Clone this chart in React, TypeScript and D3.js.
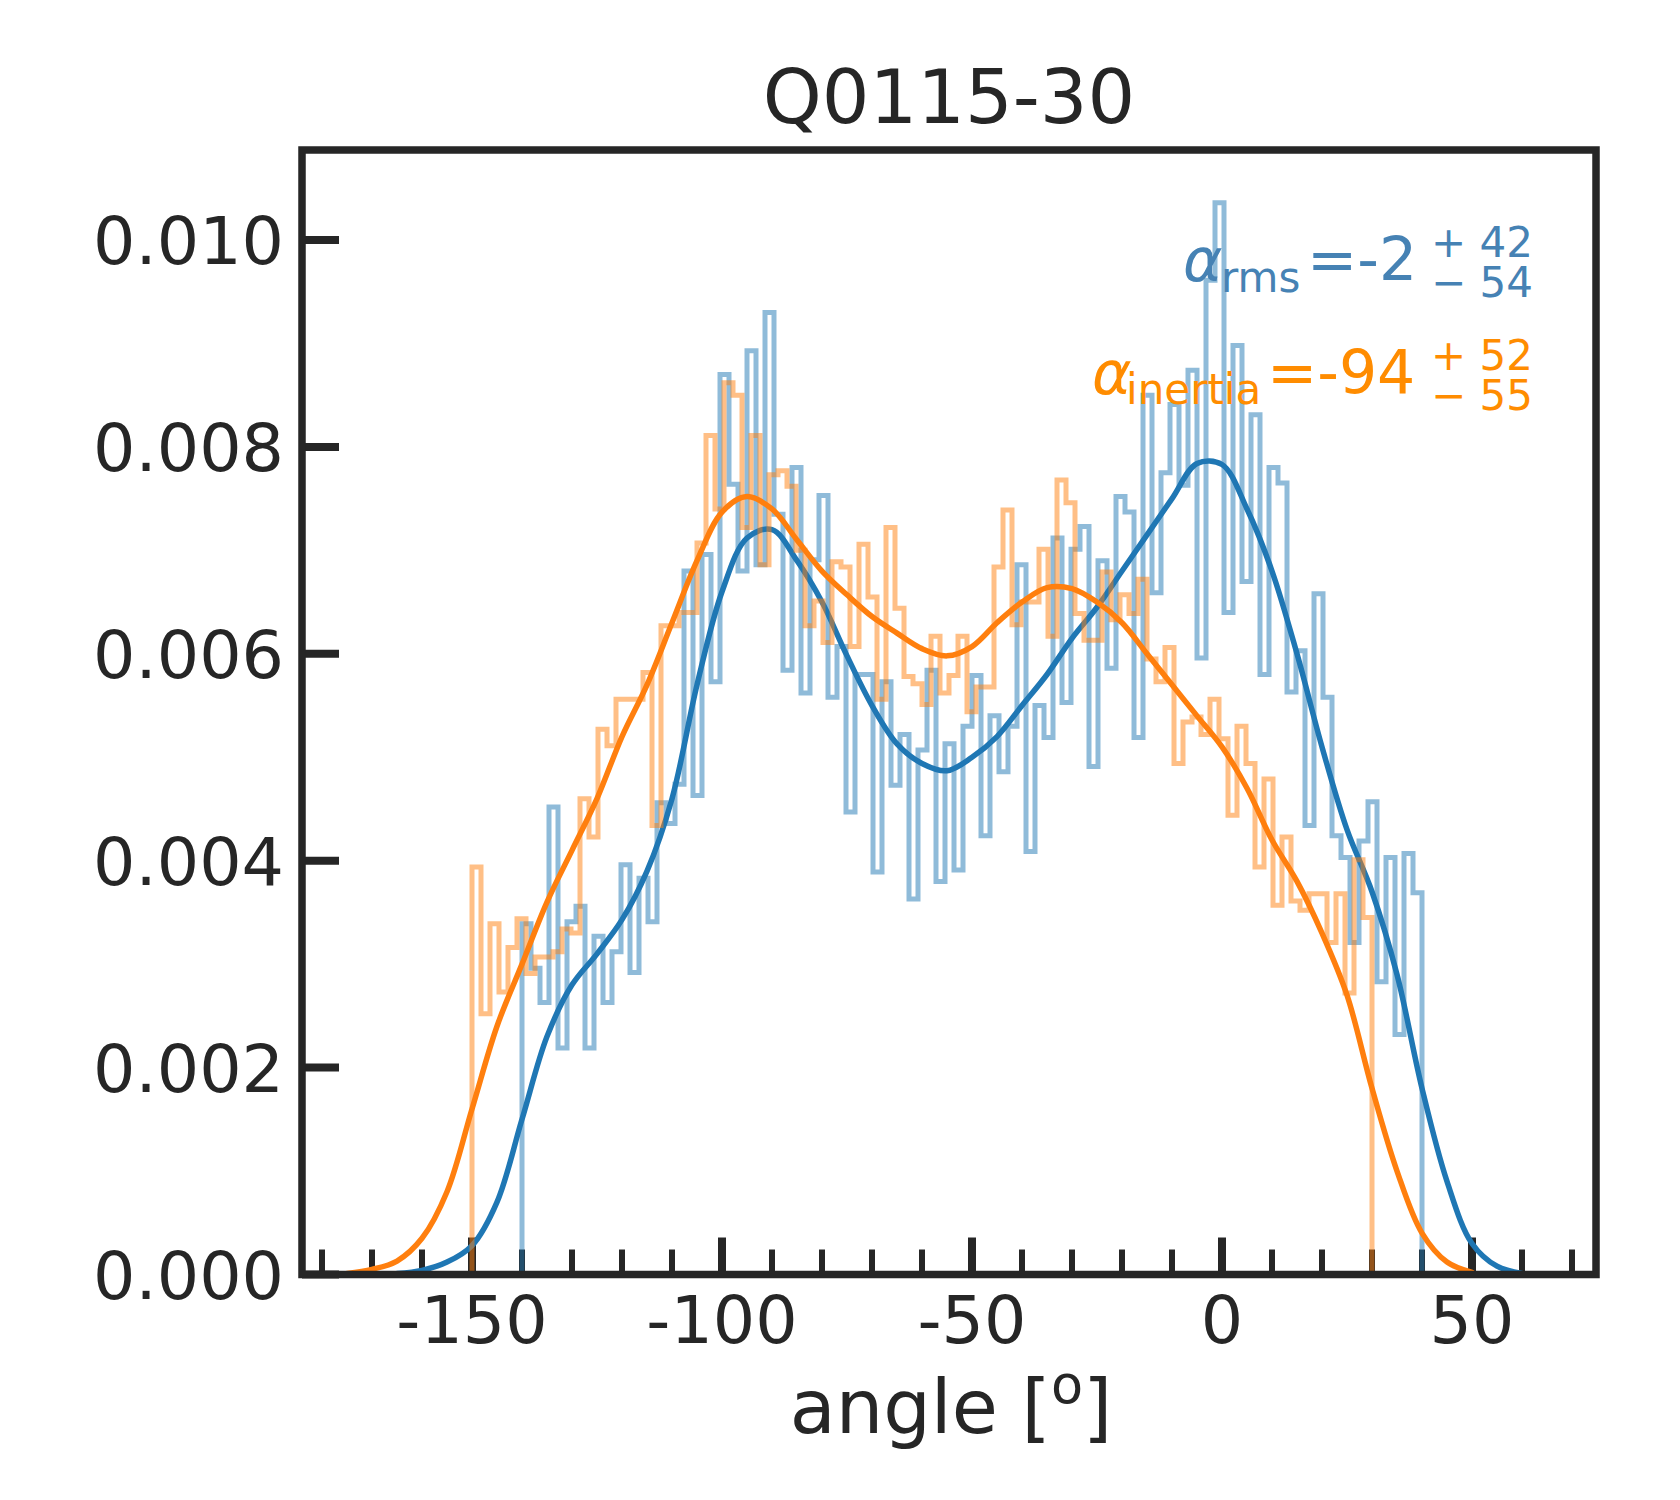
import React from "react"
import * as d3 from "d3"

const WIDTH = 1680
const HEIGHT = 1500
const PLOT = { left: 302, right: 1596, top: 150, bottom: 1274.5 }
const X_LIM: [number, number] = [-184, 74.8]
const Y_LIM: [number, number] = [0, 0.01087]
const FONT = "DejaVu Sans"
const INK = "#262626"

// histogram bins: 100 bins of 1.8 deg
const N_BINS = 100
const RMS_RANGE: [number, number] = [-140, 40]
const INERTIA_RANGE: [number, number] = [-150, 30]

const RMS_DENSITY = [
    0.00339, 0.00296, 0.00263, 0.00452, 0.00219, 0.00341, 0.00356, 0.00219, 0.00327, 0.00263,
    0.00312, 0.00396, 0.00292, 0.00383, 0.00341, 0.00456, 0.00436, 0.00474, 0.0068, 0.00463,
    0.00696, 0.00573, 0.0087, 0.00764, 0.0068, 0.00893, 0.00686, 0.0093, 0.00735, 0.00584,
    0.0078, 0.00562, 0.00691, 0.00753, 0.00558, 0.00607, 0.00447, 0.0058, 0.0058, 0.00389,
    0.00573, 0.00473, 0.00522, 0.00363, 0.00507, 0.00584, 0.0038, 0.00513, 0.00391, 0.0053,
    0.00579, 0.00424, 0.0054, 0.00486, 0.0053, 0.00686, 0.00409, 0.0055, 0.00519, 0.00712,
    0.00553, 0.00701, 0.00723, 0.00491, 0.0069, 0.00586, 0.00752, 0.00737, 0.00519, 0.0085,
    0.00659, 0.00775, 0.00841, 0.00763, 0.00874, 0.00596, 0.00961, 0.01036, 0.0064, 0.00898,
    0.0067, 0.00831, 0.0058, 0.0078, 0.00765, 0.00563, 0.00603, 0.00434, 0.00658, 0.00558,
    0.00424, 0.00403, 0.00321, 0.00419, 0.00457, 0.00283, 0.00403, 0.00232, 0.00407, 0.00369,
]

const INERTIA_DENSITY = [
    0.00394, 0.00252, 0.00339, 0.00273, 0.00316, 0.00344, 0.00291, 0.00307, 0.00307, 0.00312,
    0.00334, 0.0033, 0.0046, 0.00423, 0.00527, 0.00511, 0.00556, 0.00556, 0.00556, 0.00582,
    0.00434, 0.00627, 0.00627, 0.0064, 0.0064, 0.00707, 0.00811, 0.0074, 0.00862, 0.0085,
    0.00722, 0.00811, 0.00686, 0.00773, 0.00777, 0.00762, 0.007, 0.00627, 0.00651, 0.00611,
    0.00689, 0.00684, 0.00607, 0.00706, 0.00655, 0.00556, 0.00722, 0.00644, 0.00578, 0.00571,
    0.00551, 0.00617, 0.00562, 0.00579, 0.00617, 0.00544, 0.00568, 0.00568, 0.00684, 0.00739,
    0.00628, 0.0065, 0.0065, 0.00701, 0.00617, 0.00768, 0.00746, 0.00639, 0.00613, 0.00613,
    0.00679, 0.00633, 0.00657, 0.00639, 0.00672, 0.00595, 0.00573, 0.00606, 0.00494, 0.00534,
    0.00539, 0.00522, 0.00556, 0.00518, 0.00444, 0.0053, 0.00494, 0.00394, 0.00479, 0.00357,
    0.00423, 0.00361, 0.00352, 0.00368, 0.00368, 0.00321, 0.00368, 0.00272, 0.00401, 0.00345,
]

// kde curves
const RMS_KDE_X = [
    -165, -160, -155, -150, -145, -140, -135, -130, -125, -120, -115, -110, -105, -100, -95, -90,
    -85, -80, -75, -70, -65, -60, -55, -50, -45, -40, -35, -30, -25, -20, -15, -10, -5, 0, 5, 10,
    15, 20, 25, 30, 35, 40, 45, 50, 55, 60,
]
const RMS_KDE_Y = [
    0.00001, 0.00004, 0.00012, 0.00028, 0.0007, 0.0015, 0.0023, 0.0028, 0.0031, 0.00343, 0.0039,
    0.0046, 0.0057, 0.0066, 0.00712, 0.0072, 0.0069, 0.0065, 0.00598, 0.0055, 0.00513, 0.00494,
    0.00487, 0.005, 0.0052, 0.0055, 0.0058, 0.00615, 0.00645, 0.0068, 0.00715, 0.0075, 0.00784,
    0.00783, 0.0074, 0.0068, 0.006, 0.0051, 0.0043, 0.0037, 0.0029, 0.0018, 0.0009, 0.0003,
    0.00008, 0.00001,
]

const INERTIA_KDE_X = [
    -175, -170, -165, -160, -155, -150, -145, -140, -135, -130, -125, -120, -115, -110, -105, -100,
    -95, -90, -85, -80, -75, -70, -65, -60, -55, -50, -45, -40, -35, -30, -25, -20, -15, -10, -5,
    0, 5, 10, 15, 20, 25, 30, 35, 40, 45, 50,
]
const INERTIA_KDE_Y = [
    0.00001, 0.00005, 0.00013, 0.00035, 0.0008, 0.0016, 0.0024, 0.003, 0.0036, 0.0041, 0.0046,
    0.0052, 0.0057, 0.0063, 0.0069, 0.00737, 0.00752, 0.0074, 0.0071, 0.0068, 0.00657, 0.00636,
    0.0062, 0.00605, 0.00598, 0.00607, 0.0063, 0.0065, 0.00664, 0.00663, 0.0065, 0.0063, 0.006,
    0.0057, 0.0054, 0.0051, 0.0047, 0.0042, 0.0038, 0.0033, 0.0027, 0.0018, 0.001, 0.0004,
    0.00012, 0.00002,
]

const X_MAJOR = [-150, -100, -50, 0, 50]
const X_MINOR = [
    -180, -170, -160, -140, -130, -120, -110, -90, -80, -70, -60, -40, -30, -20, -10, 10, 20, 30,
    40, 60, 70,
]
const Y_TICKS = [0, 0.002, 0.004, 0.006, 0.008, 0.01]
const Y_LABELS = ["0.000", "0.002", "0.004", "0.006", "0.008", "0.010"]

const C_RMS = "#1f77b4"
const C_INERTIA = "#ff7f0e"

type Pt = [number, number]

// outline of a step histogram (no bottom edge)
const stepPoints = (range: [number, number], values: number[]): Pt[] => {
    const w = (range[1] - range[0]) / N_BINS
    const pts: Pt[] = [[range[0], 0]]
    values.forEach((v, i) => {
        pts.push([range[0] + i * w, v])
        pts.push([range[0] + (i + 1) * w, v])
    })
    pts.push([range[1], 0])
    return pts
}

export default function App() {
    const x = d3.scaleLinear().domain(X_LIM).range([PLOT.left, PLOT.right])
    const y = d3.scaleLinear().domain(Y_LIM).range([PLOT.bottom, PLOT.top])

    const stepLine = d3
        .line<Pt>()
        .x((d) => x(d[0]))
        .y((d) => y(d[1]))
    const kdeLine = d3
        .line<Pt>()
        .x((d) => x(d[0]))
        .y((d) => Math.min(y(d[1]), PLOT.bottom))
        .curve(d3.curveCatmullRom.alpha(0.5))

    const rmsKde: Pt[] = RMS_KDE_X.map((v, i) => [v, RMS_KDE_Y[i]])
    const inertiaKde: Pt[] = INERTIA_KDE_X.map((v, i) => [v, INERTIA_KDE_Y[i]])

    return (
        <div style={{ position: "absolute", left: 0, top: 0 }}>
            <svg width={WIDTH} height={HEIGHT} style={{ display: "block", background: "#fff" }}>
                {/* ticks, drawn below the data */}
                {X_MINOR.map((t) => (
                    <line
                        key={"xm" + t}
                        x1={x(t)}
                        x2={x(t)}
                        y1={PLOT.bottom}
                        y2={PLOT.bottom - 25}
                        stroke={INK}
                        strokeWidth={6}
                    />
                ))}
                {X_MAJOR.map((t) => (
                    <line
                        key={"xM" + t}
                        x1={x(t)}
                        x2={x(t)}
                        y1={PLOT.bottom}
                        y2={PLOT.bottom - 37}
                        stroke={INK}
                        strokeWidth={8}
                    />
                ))}
                {Y_TICKS.map((t) => (
                    <line
                        key={"y" + t}
                        x1={PLOT.left}
                        x2={PLOT.left + 37}
                        y1={y(t)}
                        y2={y(t)}
                        stroke={INK}
                        strokeWidth={8}
                    />
                ))}

                <path
                    d={stepLine(stepPoints(RMS_RANGE, RMS_DENSITY)) || ""}
                    fill="none"
                    stroke={C_RMS}
                    strokeOpacity={0.5}
                    strokeWidth={5}
                    strokeLinejoin="miter"
                />
                <path
                    d={kdeLine(rmsKde) || ""}
                    fill="none"
                    stroke={C_RMS}
                    strokeWidth={5.5}
                    strokeLinecap="round"
                />
                <path
                    d={stepLine(stepPoints(INERTIA_RANGE, INERTIA_DENSITY)) || ""}
                    fill="none"
                    stroke={C_INERTIA}
                    strokeOpacity={0.5}
                    strokeWidth={5}
                    strokeLinejoin="miter"
                />
                <path
                    d={kdeLine(inertiaKde) || ""}
                    fill="none"
                    stroke={C_INERTIA}
                    strokeWidth={5.5}
                    strokeLinecap="round"
                />

                {/* frame */}
                <rect
                    x={PLOT.left}
                    y={PLOT.top}
                    width={PLOT.right - PLOT.left}
                    height={PLOT.bottom - PLOT.top}
                    fill="none"
                    stroke={INK}
                    strokeWidth={7.5}
                />

                {/* tick labels */}
                <g fontFamily={FONT} fontSize={66.7} fill={INK}>
                    {X_MAJOR.map((t) => (
                        <text key={"xl" + t} x={x(t)} y={1343} textAnchor="middle">
                            {String(t)}
                        </text>
                    ))}
                    {Y_TICKS.map((t, i) => (
                        <text key={"yl" + t} x={284} y={y(t) + 24} textAnchor="end">
                            {Y_LABELS[i]}
                        </text>
                    ))}
                </g>

                <text x={949} y={123} textAnchor="middle" fontFamily={FONT} fontSize={75} fill={INK}>
                    Q0115-30
                </text>
                <text x={951} y={1433} textAnchor="middle" fontFamily={FONT} fontSize={75} fill={INK}>
                    <tspan>angle [</tspan>
                    <tspan fontSize={52.5} dy={-30}>
                        o
                    </tspan>
                    <tspan dy={30}>]</tspan>
                </text>

                {/* annotations */}
                <g fontFamily={FONT} fill="#4682b4">
                    <text x={1183} y={281} fontSize={60} fontStyle="italic">
                        α
                    </text>
                    <text x={1221} y={292} fontSize={42}>
                        rms
                    </text>
                    <text x={1307} y={280} fontSize={60}>
                        =-2
                    </text>
                    <text x={1431} y={257} fontSize={42}>
                        + 42
                    </text>
                    <text x={1431} y={297} fontSize={42}>
                        − 54
                    </text>
                </g>
                <g fontFamily={FONT} fill="#ff8c00">
                    <text x={1092} y={394} fontSize={60} fontStyle="italic">
                        α
                    </text>
                    <text x={1126} y={404} fontSize={42}>
                        inertia
                    </text>
                    <text x={1267} y={393} fontSize={60}>
                        =-94
                    </text>
                    <text x={1431} y={370} fontSize={42}>
                        + 52
                    </text>
                    <text x={1431} y={410} fontSize={42}>
                        − 55
                    </text>
                </g>
            </svg>
        </div>
    )
}
